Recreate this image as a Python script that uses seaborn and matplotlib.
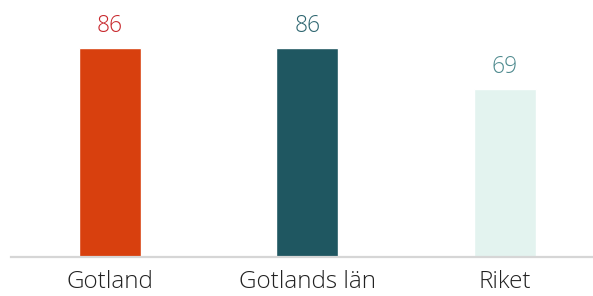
import matplotlib
matplotlib.use("Agg")
import matplotlib.pyplot as plt
import seaborn as sns
import pandas as pd

categories = ["Gotland", "Gotlands län", "Riket"]
values = [86, 86, 69]
bar_colors = ["#D8400E", "#1F5761", "#E3F3EF"]
label_colors = ["#C8282D", "#2E6670", "#4E8A8E"]

sns.set_theme(style="white")
plt.rcParams['font.family'] = ['Open Sans', 'DejaVu Sans']

df = pd.DataFrame({"cat": categories, "val": values})

fig = plt.figure(figsize=(5.93, 2.96), dpi=100)
ax = fig.add_axes([11/593, 39/296, 1 - 11/593, 257/296])
sns.barplot(data=df, x="cat", y="val", hue="cat", palette=bar_colors,
            legend=False, width=0.314, ax=ax, saturation=1)

ax.set_xlim(-0.501, 2.446)
ax.set_ylim(0, 105.75)
for s in ["top", "right", "left"]:
    ax.spines[s].set_visible(False)
ax.spines["bottom"].set_color("#D6D6D6")
ax.spines["bottom"].set_linewidth(1.6)
ax.set_yticks([])
ax.set_xlabel("")
ax.set_ylabel("")
ax.tick_params(axis="x", length=0, pad=9, labelsize=17.5, labelcolor="#222222")
for t in ax.get_xticklabels():
    t.set_fontweight("light")

for i, (v, c) in enumerate(zip(values, label_colors)):
    ax.text(i, v + 6.7, str(v), ha="center", va="baseline", fontsize=16.5,
            color=c, fontweight="light")

fig.savefig("out.png", dpi=100)
